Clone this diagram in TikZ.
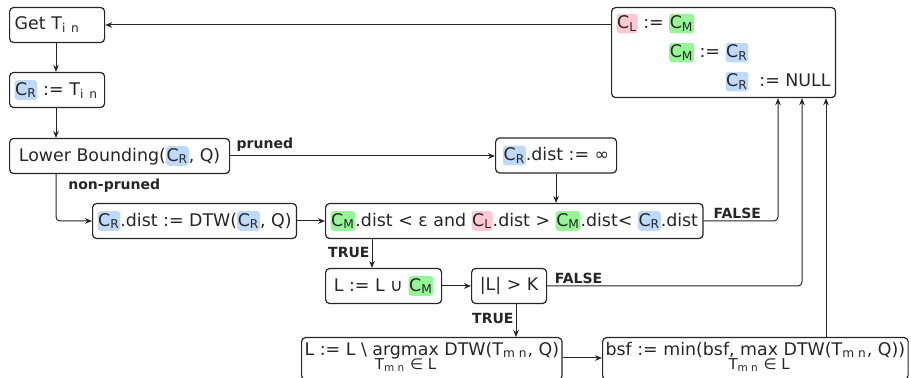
\documentclass[tikz,border=0pt]{standalone}
\usepackage{fontspec}
\setmainfont{DejaVu Sans}
\usetikzlibrary{arrows.meta}
\usetikzlibrary{positioning, calc}

\definecolor{hlblue}{RGB}{190,218,250}
\definecolor{hlgreen}{RGB}{150,245,150}
\definecolor{hlpink}{RGB}{255,200,210}

\newcommand{\hlbox}[2]{\tikz[baseline=(hb.base)]\node[fill=#1, draw=none, rounded corners=1.5pt, inner xsep=0.3pt, inner ysep=1pt, outer sep=0pt,
    minimum width=0pt, minimum height=0pt, anchor=center, text width={}, align=none](hb){#2};}
\newcommand{\hlR}{\hlbox{hlblue}{C\textsubscript{R}}}
\newcommand{\hlM}{\hlbox{hlgreen}{C\textsubscript{M}}}
\newcommand{\hlL}{\hlbox{hlpink}{C\textsubscript{L}}}
\newcommand{\Tin}{T\textsubscript{i n}}
\newcommand{\Tmn}{T\textsubscript{m n}}
\newcommand{\undersub}[1]{\begin{tabular}[t]{@{}c@{}}#1\\[-4pt]\makebox[0pt]{\fontsize{7.5}{8}\selectfont\Tmn{} ∈ L}\end{tabular}}

\begin{document}
\begin{tikzpicture}[x=0.5pt, y=-0.5pt, black!85,
    box/.style = {draw, line width=0.6pt, rounded corners=2pt, inner sep=2.5pt,
                  minimum height=17.5pt, font=\fontsize{8.7}{11}\selectfont},
    lab/.style = {font=\fontsize{7}{8}\selectfont\bfseries, inner sep=1pt},
    arr/.style = {-{Stealth[length=3.5pt, width=2.8pt]}, line width=0.5pt, rounded corners=2pt}]
    \useasboundingbox (0,0) rectangle (911,378);

    % left column
    \node[box, anchor=west, text width=42.5pt, align=left] (get) at (9,25) {Get \Tin};
    \node[box, anchor=west, text width=42.5pt, align=left] (init) at (9,90) {\hlR{} := \Tin};
    \node[box, anchor=west, minimum width=110pt] (lb) at (9,156) {Lower Bounding(\hlR, Q)};
    \coordinate (lcol) at (56,0);

    % middle
    \node[box, anchor=west, minimum width=60.5pt] (inf) at (495,155.5) {\hlR.dist := ∞};
    \node[box, anchor=west] (dtw) at (92,221) {\hlR.dist := DTW(\hlR, Q)};
    \node[box, anchor=west] (cond) at (325,221)
        {\hlM.dist < ε and \hlL.dist > \hlM.dist< \hlR.dist};
    \node[box, anchor=west, minimum width=58pt] (union) at (325,286) {L := L ∪ \hlM};
    \node[box, anchor=west, minimum width=37.5pt] (gtk) at (471,286) {|L| > K};

    % bottom
    \node[box, anchor=north west, inner sep=1.5pt] (amax) at (301,337)
        {L := L \textbackslash\ \undersub{argmax} DTW(\Tmn, Q)};
    \node[box, anchor=north west, inner sep=1.5pt] (bsf) at (602,337)
        {bsf := min(bsf, \undersub{max} DTW(\Tmn, Q))};

    % update box
    \node[box, anchor=north west, minimum width=111.5pt, minimum height=45pt, align=left] (upd) at (611,7)
        {\hlL{} := \hlM\\[3.5pt]
         \hphantom{\hlL{} := }\hlM{} := \hlR\\[3.5pt]
         \hphantom{\hlL{} := \hlM{} := }\hlR{}\ \ := NULL};

    % connectors
    \draw[arr] (get.east -| upd.west) -- (get.east);
    \draw[arr] (lcol |- get.south) -- (lcol |- init.north);
    \draw[arr] (lcol |- init.south) -- (lcol |- lb.north);
    \draw[arr] (lb.east) -- node[lab, pos=0, above right, yshift=1pt, xshift=2pt] {pruned} (lb.east -| inf.west);
    \draw[arr] (lcol |- lb.south) -- (lcol |- dtw.west) -- (dtw.west);
    \node[lab, anchor=west] at (66,186) {non-pruned};
    \draw[arr] (inf.south) -- (inf.south |- cond.north);
    \draw[arr] (dtw) -- (cond);

    \coordinate (ctrue) at (372,239);
    \draw[arr] (ctrue |- cond.south) -- node[lab, pos=0.45, left] {TRUE} (ctrue |- union.north);
    \draw[arr] (union) -- (gtk);
    \coordinate (gtrue) at (516,304);
    \draw[arr] (gtrue |- gtk.south) -- node[lab, pos=0.45, left] {TRUE} (gtrue |- amax.north);
    \draw[arr] (amax.east |- 0,358) -- (bsf.west |- 0,358);

    \coordinate (f1) at (778,97);
    \coordinate (f2) at (802,97);
    \coordinate (f3) at (826,97);
    \draw[arr] (cond.east) -- node[lab, pos=0.1, above right] {FALSE} (cond.east -| f1) -- (f1 |- upd.south);
    \draw[arr] (gtk.east) -- node[lab, pos=0.02, above right] {FALSE} (gtk.east -| f2) -- (f2 |- upd.south);
    \draw[arr] (f3 |- bsf.north) -- (f3 |- upd.south);
\end{tikzpicture}
\end{document}
